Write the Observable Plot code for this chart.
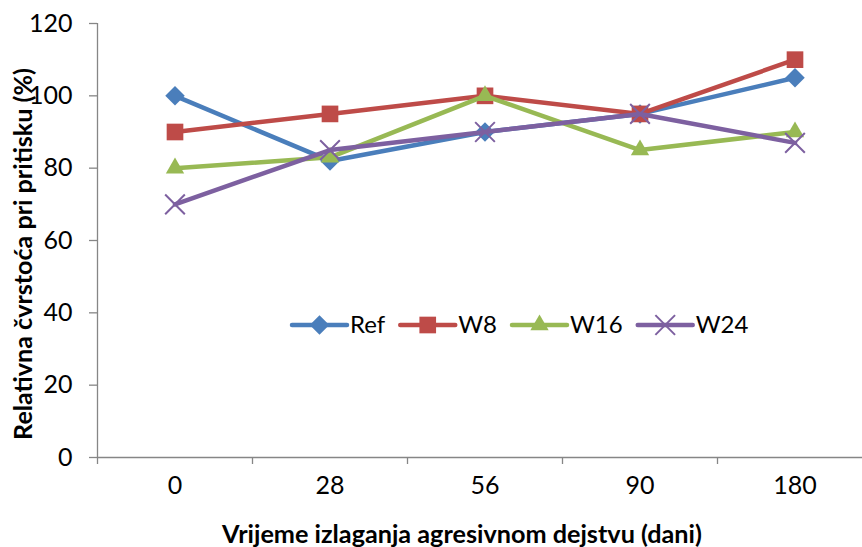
<!DOCTYPE html>
<html>
<head>
<meta charset="utf-8">
<script src="https://cdn.jsdelivr.net/npm/d3@7"></script>
<script src="https://cdn.jsdelivr.net/npm/@observablehq/plot@0.6"></script>
<style>
  html, body { margin: 0; padding: 0; background: #fff; }
  #chart { position: relative; width: 862px; height: 547px; overflow: hidden; }
  #chart svg g[aria-label$="tick label"] text { font-size: 25px !important; font-family: Lato, sans-serif !important; }
</style>
</head>
<body>
<div id="chart"></div>
<script>
const categories = ["0", "28", "56", "90", "180"];
const seriesNames = ["Ref", "W8", "W16", "W24"];
const refValues = [100, 82, 90, 95, 105];
const w8Values = [90, 95, 100, 95, 110];
const w16Values = [80, 83, 100, 85, 90];
const w24Values = [70, 85, 90, 95, 87];
const yTicks = [0, 20, 40, 60, 80, 100, 120];
const xTitle = "Vrijeme izlaganja agresivnom dejstvu (dani)";
const yTitle = "Relativna čvrstoća pri pritisku (%)";

const colors = ["#4a7ebb", "#be4b48", "#98b954", "#7d60a0"];
const symbols = ["diamond2", "square", "triangle", "times"];
const radii = [8.8, 9.4, 6.8, 9];

const allValues = [refValues, w8Values, w16Values, w24Values];
const rows = [];
seriesNames.forEach((s, k) => {
  allValues[k].forEach((v, i) => rows.push({series: s, k, i, cat: categories[i], value: v}));
});

const axisColor = "#868686";
const marks = [
  Plot.ruleY([0], {stroke: axisColor, strokeWidth: 1.3}),
  Plot.ruleX([-0.5], {stroke: axisColor, strokeWidth: 1.3}),
  Plot.axisY({ticks: yTicks, tickSize: 8, tickPadding: 17, stroke: axisColor, strokeWidth: 1.3, fontSize: 25, label: null}),
  Plot.axisX({ticks: d3.range(categories.length + 1).map(d => d - 0.5), tickSize: 7, stroke: axisColor, strokeWidth: 1.3, tickFormat: () => "", label: null}),
  Plot.axisX({ticks: d3.range(categories.length), tickSize: 0, tickPadding: 19, fontSize: 25, tickFormat: i => categories[i], label: null})
];
seriesNames.forEach((s, k) => {
  const d = rows.filter(r => r.series === s);
  marks.push(Plot.line(d, {x: "i", y: "value", stroke: colors[k], strokeWidth: 4.5, strokeLinecap: "round", strokeLinejoin: "round"}));
  if (symbols[k] === "times") {
    marks.push(Plot.dot(d, {x: "i", y: "value", symbol: "times", r: radii[k], stroke: colors[k], strokeWidth: 2, fill: "none"}));
  } else {
    marks.push(Plot.dot(d, {x: "i", y: "value", symbol: symbols[k], r: radii[k], fill: colors[k], stroke: "none"}));
  }
});

const plot = Plot.plot({
  width: 862,
  height: 547,
  marginLeft: 97,
  marginRight: 0,
  marginTop: 23,
  marginBottom: 90,
  style: {fontFamily: "Lato, sans-serif", fontSize: "25px", color: "#000", background: "#fff"},
  x: {type: "linear", domain: [-0.5, categories.length - 0.5], range: [97, 872], axis: null},
  y: {domain: [0, 120], range: [457, 23], axis: null},
  marks
});
document.getElementById("chart").appendChild(plot);

const svg = d3.select(plot);

function fitText(sel, target) {
  const w = sel.node().getComputedTextLength();
  const fs = parseFloat(sel.attr("font-size"));
  sel.attr("font-size", fs * target / w);
}
const xt = svg.append("text")
  .attr("x", 462).attr("y", 543)
  .attr("text-anchor", "middle")
  .attr("font-weight", "bold").attr("font-size", 22)
  .attr("font-family", "Lato, sans-serif").attr("fill", "#000")
  .text(xTitle);
fitText(xt, 480);
const yt = svg.append("text")
  .attr("transform", "translate(32,254) rotate(-90)")
  .attr("text-anchor", "middle")
  .attr("font-weight", "bold").attr("font-size", 22)
  .attr("font-family", "Lato, sans-serif").attr("fill", "#000")
  .text(yTitle);
fitText(yt, 372);

// Legend inside the plot area
const lg = svg.append("g").attr("font-family", "Lato, sans-serif").attr("font-size", 24).attr("text-anchor", "start");
let lx = 292;
const ly = 325;
seriesNames.forEach((s, k) => {
  const g = lg.append("g");
  g.append("line").attr("x1", lx).attr("x2", lx + 55).attr("y1", ly).attr("y2", ly)
    .attr("stroke", colors[k]).attr("stroke-width", 4.5).attr("stroke-linecap", "round");
  const sym = {diamond2: d3.symbolDiamond2, square: d3.symbolSquare, triangle: d3.symbolTriangle, times: d3.symbolTimes}[symbols[k]];
  const p = g.append("path").attr("transform", `translate(${lx + 27.5},${ly})`)
    .attr("d", d3.symbol(sym, Math.PI * radii[k] * radii[k])());
  if (symbols[k] === "times") p.attr("fill", "none").attr("stroke", colors[k]).attr("stroke-width", 2);
  else p.attr("fill", colors[k]);
  const t = g.append("text").attr("x", lx + 58).attr("y", ly).attr("dy", "0.35em").attr("fill", "#000").text(s);
  lx += 58 + t.node().getComputedTextLength() + 15;
});
</script>
</body>
</html>
